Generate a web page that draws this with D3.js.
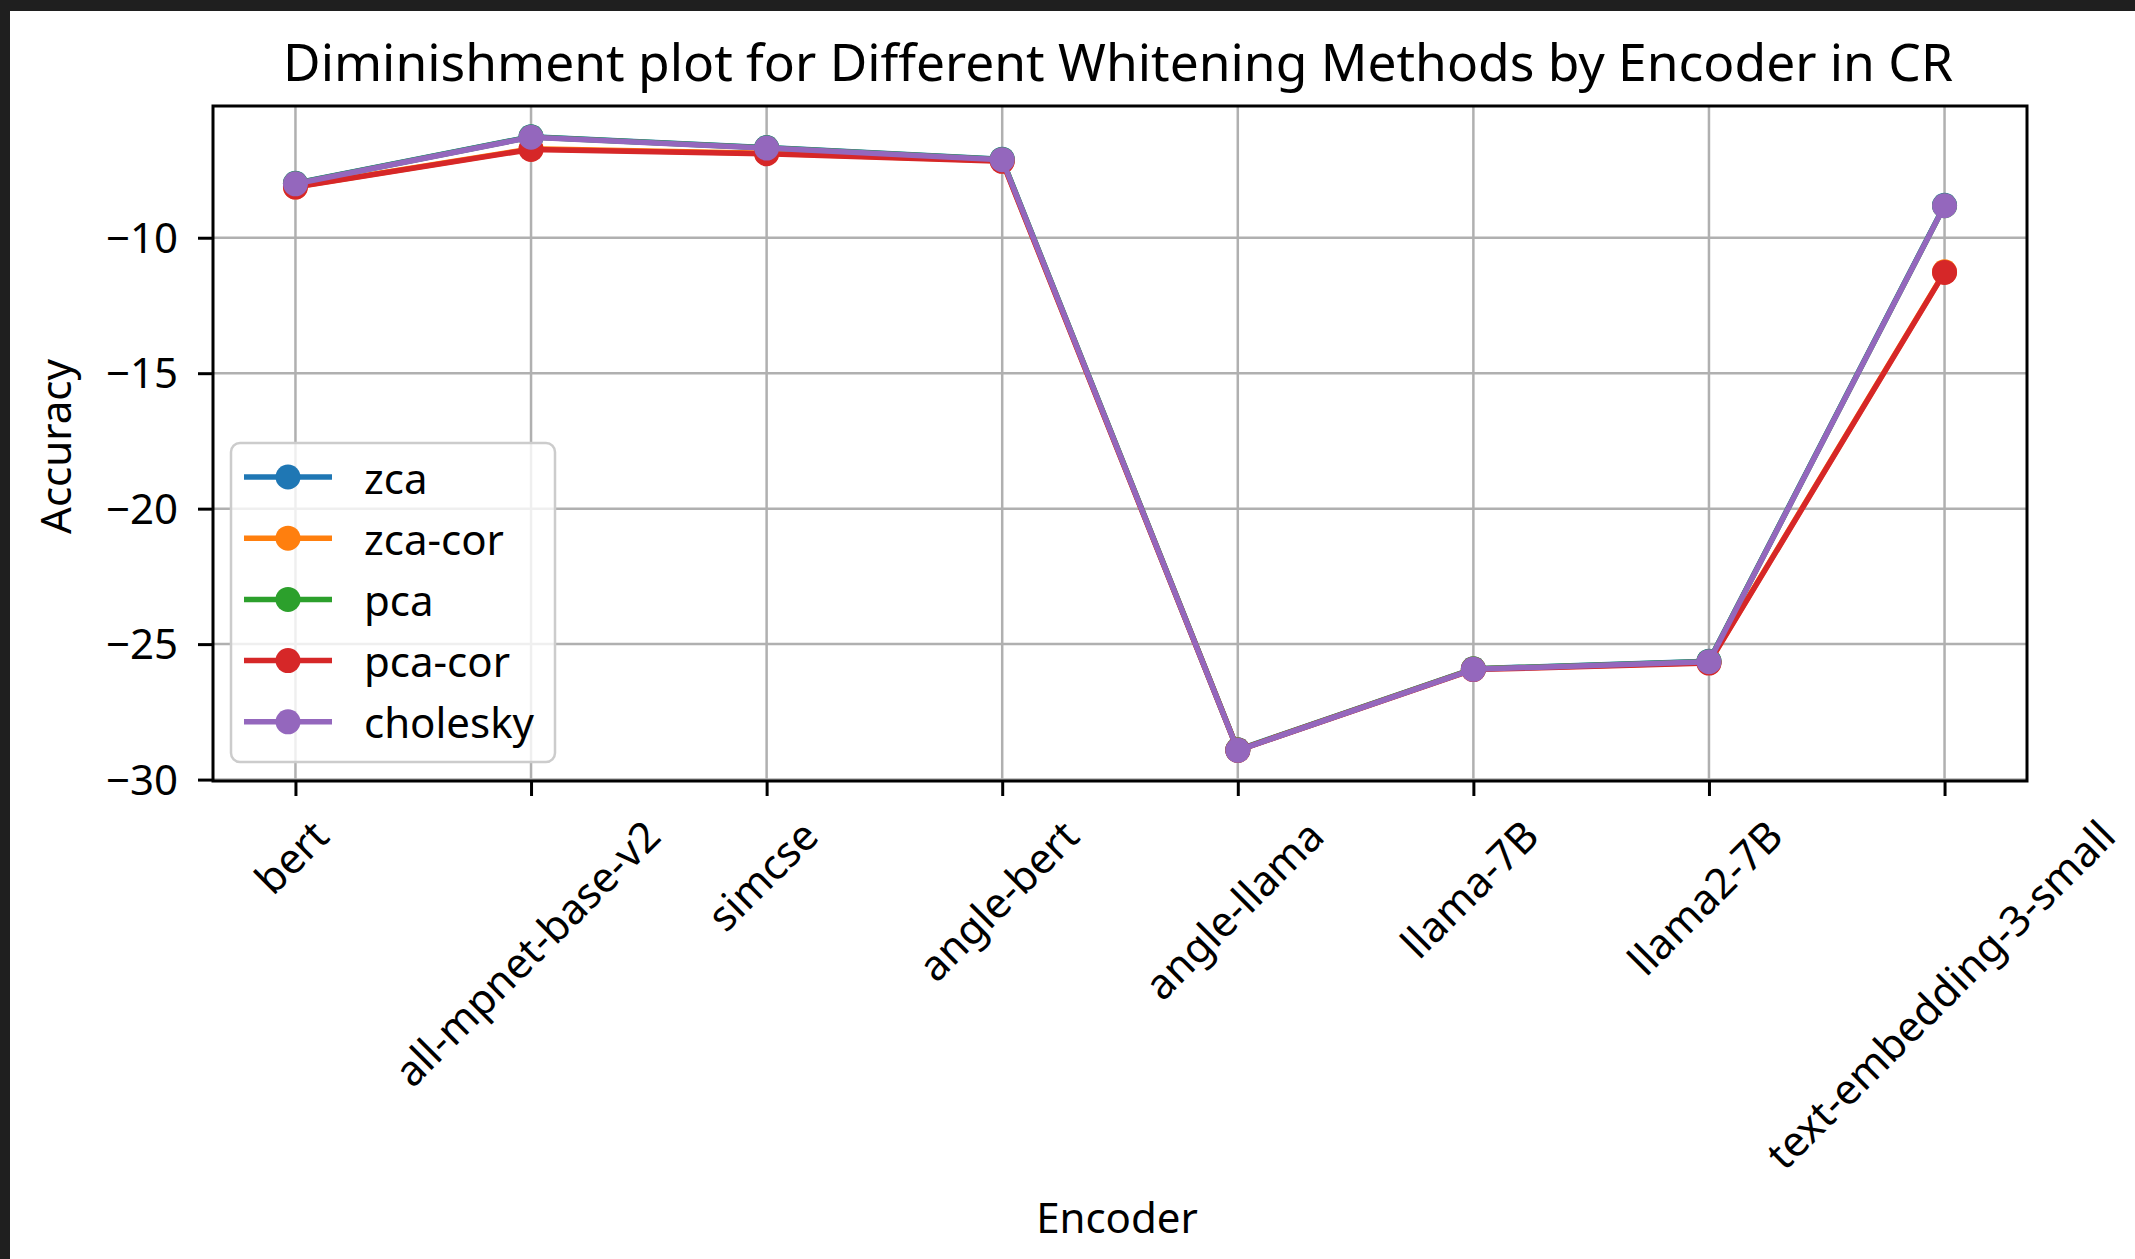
<!DOCTYPE html>
<html>
<head>
<meta charset="utf-8">
<script src="https://cdn.jsdelivr.net/npm/d3@7"></script>
<style>
  html, body { margin: 0; padding: 0; background: #ffffff; }
  svg { display: block; }
  text { font-family: "Noto Sans", "Open Sans", sans-serif; fill: #000; }
</style>
</head>
<body>
<svg id="chart" width="2135" height="1259"></svg>
<script>
// Encoders on the x axis
const encoders = ["bert", "all-mpnet-base-v2", "simcse", "angle-bert", "angle-llama",
                  "llama-7B", "llama2-7B", "text-embedding-3-small"];

// Accuracy change per whitening method, one value per encoder
const zca      = [-7.99, -6.27, -6.67, -7.10, -28.90, -25.91, -25.63, -8.80];
const zcaCor   = [-8.12, -6.72, -6.88, -7.16, -28.91, -25.92, -25.68, -11.26];
const pca      = [-8.00, -6.28, -6.68, -7.11, -28.91, -25.92, -25.64, -8.82];
const pcaCor   = [-8.13, -6.74, -6.90, -7.18, -28.92, -25.94, -25.70, -11.28];
const cholesky = [-8.01, -6.29, -6.69, -7.12, -28.92, -25.93, -25.65, -8.82];

const methodNames = ["zca", "zca-cor", "pca", "pca-cor", "cholesky"];
const yTicks = [-10, -15, -20, -25, -30];

const seriesList = [zca, zcaCor, pca, pcaCor, cholesky];
const colors = ["#1f77b4", "#ff7f0e", "#2ca02c", "#d62728", "#9467bd"];

const svg = d3.select("#chart");
const W = 2135, H = 1259;
const box = { left: 213, right: 2027, top: 106, bottom: 781 };
const fs = 42;

svg.append("rect").attr("width", W).attr("height", H).attr("fill", "#ffffff");
// editor chrome strips along the top and left edges
svg.append("rect").attr("x", 0).attr("y", 0).attr("width", W).attr("height", 11).attr("fill", "#1f1f1f");
svg.append("rect").attr("x", 0).attr("y", 0).attr("width", 10).attr("height", H).attr("fill", "#1f1f1f");

// scales: categorical x with matplotlib-like margins, y padded 5% of the data span
const x = d3.scalePoint().domain(encoders).range([box.left, box.right]).padding(0.35);
const allVals = seriesList.flat();
const [vMin, vMax] = d3.extent(allVals);
const pad = (vMax - vMin) * 0.05;
const y = d3.scaleLinear().domain([vMin - pad, vMax + pad]).range([box.bottom, box.top]);

// grid
const grid = svg.append("g");
grid.selectAll("line.v").data(encoders).join("line")
  .attr("x1", d => x(d)).attr("x2", d => x(d))
  .attr("y1", box.top).attr("y2", box.bottom)
  .attr("stroke", "#b0b0b0").attr("stroke-width", 2.5);
grid.selectAll("line.h").data(yTicks).join("line")
  .attr("x1", box.left).attr("x2", box.right)
  .attr("y1", d => y(d)).attr("y2", d => y(d))
  .attr("stroke", "#b0b0b0").attr("stroke-width", 2.5);

// series lines with markers
const line = d3.line().x((d, i) => x(encoders[i])).y(d => y(d));
seriesList.forEach((vals, k) => {
  const g = svg.append("g");
  g.append("path").datum(vals).attr("d", line)
    .attr("fill", "none").attr("stroke", colors[k]).attr("stroke-width", 5.5)
    .attr("stroke-linejoin", "round").attr("stroke-linecap", "butt");
  g.selectAll("circle").data(vals).join("circle")
    .attr("cx", (d, i) => x(encoders[i])).attr("cy", d => y(d))
    .attr("r", 12.5).attr("fill", colors[k]);
});

// frame
svg.append("rect")
  .attr("x", box.left).attr("y", box.top)
  .attr("width", box.right - box.left).attr("height", box.bottom - box.top)
  .attr("fill", "none").attr("stroke", "#000").attr("stroke-width", 3);

// y axis
const yAxis = svg.append("g").attr("transform", `translate(${box.left},0)`)
  .call(d3.axisLeft(y).tickValues(yTicks).tickSize(15).tickSizeOuter(0).tickPadding(20)
        .tickFormat(d3.format("d")));
yAxis.select(".domain").remove();
yAxis.selectAll(".tick line").attr("stroke", "#000").attr("stroke-width", 3);
yAxis.selectAll(".tick text").attr("font-size", fs).attr("dy", "0.35em")
  .style("font-family", "'Noto Sans', 'Open Sans', sans-serif");

// x axis ticks and rotated labels
const xAxis = svg.append("g").attr("transform", `translate(0,${box.bottom})`)
  .call(d3.axisBottom(x).tickSize(15).tickSizeOuter(0).tickFormat(""));
xAxis.select(".domain").remove();
xAxis.selectAll(".tick line").attr("stroke", "#000").attr("stroke-width", 3);

const labelTop = box.bottom + 15 + 14;
encoders.forEach(name => {
  const t = svg.append("text")
    .attr("font-size", fs).attr("text-anchor", "middle")
    .attr("dominant-baseline", "central")
    .text(name);
  const w = t.node().getComputedTextLength();
  const h = fs * 1.15;
  const side = (w + h) * Math.SQRT1_2;
  const cx = x(name) - 5, cy = labelTop + side / 2;
  t.attr("transform", `translate(${cx},${cy}) rotate(-45)`);
});

// axis titles
svg.append("text").attr("x", (box.left + box.right) / 2 - 3).attr("y", 1216)
  .attr("text-anchor", "middle").attr("dominant-baseline", "central")
  .attr("font-size", fs).text("Encoder");
svg.append("text")
  .attr("transform", `translate(54,${(box.top + box.bottom) / 2 + 3}) rotate(-90)`)
  .attr("text-anchor", "middle").attr("dominant-baseline", "central")
  .attr("font-size", fs).text("Accuracy");

// chart title
svg.append("text").attr("x", (box.left + box.right) / 2 - 2).attr("y", 81)
  .attr("text-anchor", "middle").attr("font-size", 51.5)
  .text("Diminishment plot for Different Whitening Methods by Encoder in CR");

// legend
const leg = svg.append("g");
leg.append("rect").attr("x", 231).attr("y", 443).attr("width", 324).attr("height", 319)
  .attr("rx", 9).attr("fill", "#ffffff").attr("fill-opacity", 0.8)
  .attr("stroke", "#cccccc").attr("stroke-width", 2.5);
methodNames.forEach((name, i) => {
  const ry = 477 + i * 61.2;
  leg.append("line").attr("x1", 244).attr("x2", 332).attr("y1", ry).attr("y2", ry)
    .attr("stroke", colors[i]).attr("stroke-width", 5.5);
  leg.append("circle").attr("cx", 288).attr("cy", ry).attr("r", 12.5).attr("fill", colors[i]);
  leg.append("text").attr("x", 364).attr("y", ry).attr("dominant-baseline", "central")
    .attr("font-size", fs).text(name);
});
</script>
</body>
</html>
